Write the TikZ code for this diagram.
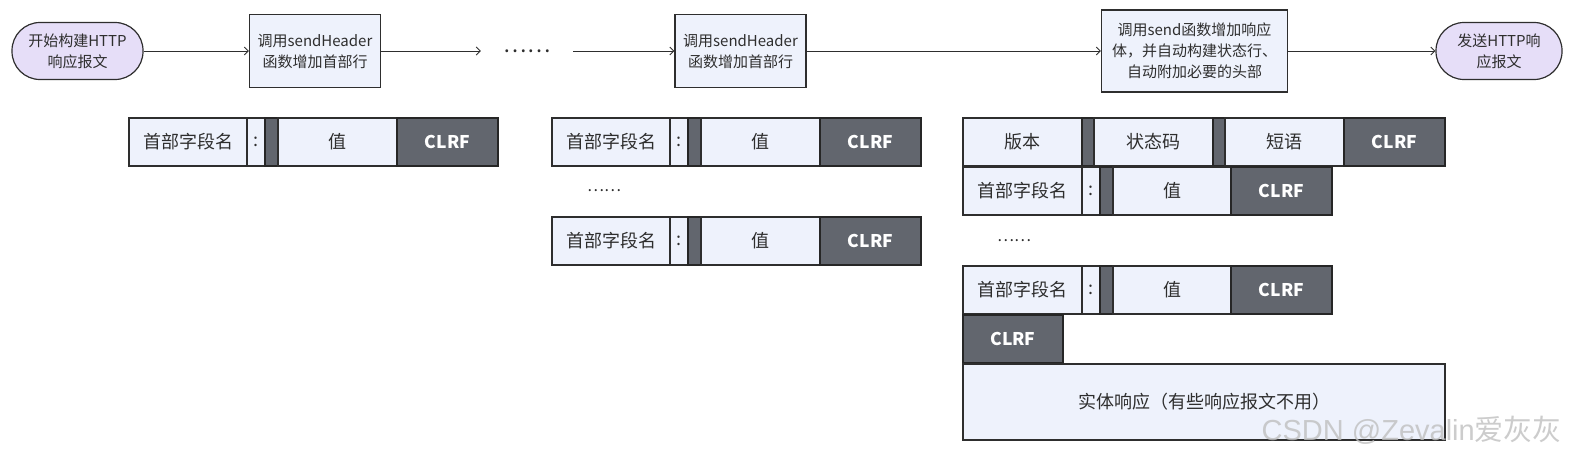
\documentclass[tikz,border=0pt]{standalone}
\usepackage{fontspec}
\setmainfont{Noto Sans CJK SC}
\newfontfamily\wmfont{Liberation Sans}
\usetikzlibrary{arrows.meta}
\definecolor{lav}{HTML}{E6DEF8}
\definecolor{pale}{HTML}{EEF2FC}
\definecolor{slate}{HTML}{62666E}
\definecolor{ink}{HTML}{2E2E2E}
\tikzset{
 base/.style={anchor=north west, inner sep=0pt, outer sep=0pt, line width=1.2pt, draw=ink, font=\fontsize{18}{20}\selectfont, text=ink},
 lt/.style={base, fill=pale},
 dk/.style={base, fill=slate, draw=black!85, text=white, font=\fontsize{17.5}{20}\selectfont\bfseries},
 term/.style={draw=ink, fill=lav, rounded corners=28pt, line width=1.2pt, align=center, font=\fontsize{15}{21}\selectfont, text=ink, inner sep=0pt},
 proc/.style={draw=ink, fill=pale, line width=1.2pt, align=center, font=\fontsize{15}{21}\selectfont, text=ink, inner sep=0pt},
 arr/.style={-{Straight Barb[length=4pt,width=8pt]}, line width=0.9pt, draw=ink},
 dotsnode/.style={text=ink, inner sep=0pt},
}
\newcommand\cellbox[7]{\node[#6, minimum width={(#4-#2)*1pt}, minimum height={(#5-#3)*1pt}] (#1) at (#2,#3) {#7};}
\begin{document}
\begin{tikzpicture}[x=1pt,y=-1pt]
\useasboundingbox (0,0) rectangle (1570,455);
% top flow
\node[term, minimum width=131pt, minimum height=57pt] (start) at (77.5,51) {开始构建HTTP\\响应报文};
\node[proc, minimum width=131pt, minimum height=73pt] (b1) at (315,51) {调用sendHeader\\函数增加首部行};
\node[dotsnode, font=\fontsize{22}{22}\selectfont, minimum width=92pt] (d0) at (527,51) {……};
\node[proc, minimum width=131pt, minimum height=73pt] (b2) at (740.5,51) {调用sendHeader\\函数增加首部行};
\node[proc, minimum width=186pt, minimum height=82pt] (b3) at (1194.5,51) {调用send函数增加响应\\体，并自动构建状态行、\\自动附加必要的头部};
\node[term, minimum width=126pt, minimum height=57pt] (end) at (1499,51) {发送HTTP响\\应报文};
\draw[arr] (start) -- (b1);
\draw[arr] (b1) -- (d0);
\draw[arr] (d0) -- (b2);
\draw[arr] (b2) -- (b3);
\draw[arr] (b3) -- (end);
% column 1
\cellbox{a1n}{129}{118}{247}{166}{lt}{首部字段名}
\cellbox{a1c}{247}{118}{265}{166}{lt}{:}
\cellbox{a1d}{265}{118}{278}{166}{dk}{}
\cellbox{a1v}{278}{118}{397}{166}{lt}{值}
\cellbox{a1r}{397}{118}{498}{166}{dk}{CLRF}
% column 2
\cellbox{b1n}{552}{118}{670}{166}{lt}{首部字段名}
\cellbox{b1c}{670}{118}{688}{166}{lt}{:}
\cellbox{b1d}{688}{118}{701}{166}{dk}{}
\cellbox{b1v}{701}{118}{820}{166}{lt}{值}
\cellbox{b1r}{820}{118}{921}{166}{dk}{CLRF}
\node[dotsnode, font=\fontsize{16}{16}\selectfont] (bdots) at (604,191) {……};
\cellbox{b2n}{552}{217}{670}{265}{lt}{首部字段名}
\cellbox{b2c}{670}{217}{688}{265}{lt}{:}
\cellbox{b2d}{688}{217}{701}{265}{dk}{}
\cellbox{b2v}{701}{217}{820}{265}{lt}{值}
\cellbox{b2r}{820}{217}{921}{265}{dk}{CLRF}
% column 3
\cellbox{s1}{963}{118}{1082}{166}{lt}{版本}
\cellbox{s2}{1082}{118}{1094}{166}{dk}{}
\cellbox{s3}{1094}{118}{1213}{166}{lt}{状态码}
\cellbox{s4}{1213}{118}{1225}{166}{dk}{}
\cellbox{s5}{1225}{118}{1344}{166}{lt}{短语}
\cellbox{s6}{1344}{118}{1445}{166}{dk}{CLRF}
\cellbox{h1n}{963}{167}{1082}{215}{lt}{首部字段名}
\cellbox{h1c}{1082}{167}{1100}{215}{lt}{:}
\cellbox{h1d}{1100}{167}{1113}{215}{dk}{}
\cellbox{h1v}{1113}{167}{1231}{215}{lt}{值}
\cellbox{h1r}{1231}{167}{1332}{215}{dk}{CLRF}
\node[dotsnode, font=\fontsize{16}{16}\selectfont] (cdots) at (1014,241) {……};
\cellbox{h2n}{963}{266}{1082}{314}{lt}{首部字段名}
\cellbox{h2c}{1082}{266}{1100}{314}{lt}{:}
\cellbox{h2d}{1100}{266}{1113}{314}{dk}{}
\cellbox{h2v}{1113}{266}{1231}{314}{lt}{值}
\cellbox{h2r}{1231}{266}{1332}{314}{dk}{CLRF}
\cellbox{eol}{963}{315}{1063}{363}{dk}{CLRF}
\cellbox{body}{963}{364}{1445}{440}{lt}{实体响应（有些响应报文不用）}
% watermark
\node[anchor=base east, inner sep=0pt, text=black!25, opacity=0.8, font=\fontsize{29}{29}\selectfont] (wm) at (1562,440) {{\wmfont CSDN @Zevalin}爱灰灰};
\end{tikzpicture}
\end{document}
